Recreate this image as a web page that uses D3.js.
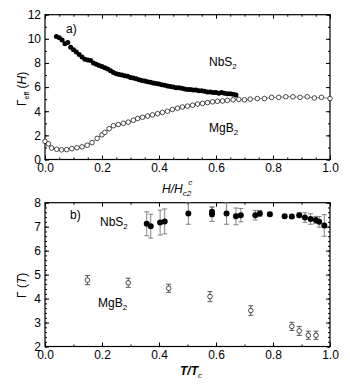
<!DOCTYPE html>
<html>
<head>
<meta charset="utf-8">
<script src="https://cdn.jsdelivr.net/npm/d3@7"></script>
<style>
body { margin: 0; background: #fff; }
svg text { font-family: "Liberation Sans", Arial, sans-serif; fill: #000; }
</style>
</head>
<body>
<script>
// panel a) : Gamma_eff vs H/Hc2
var nbsH = [0.04,0.05,0.06,0.07,0.08,0.09,0.10,0.11,0.12,0.13,0.14,0.15,0.16,0.17,0.18,0.19,0.20,0.21,0.22,0.23,0.24,0.25,0.26,0.27,0.28,0.29,0.30,0.31,0.32,0.33,0.34,0.35,0.36,0.37,0.38,0.39,0.40,0.41,0.42,0.43,0.44,0.45,0.46,0.47,0.48,0.49,0.50,0.51,0.52,0.53,0.54,0.55,0.56,0.57,0.58,0.59,0.60,0.61,0.62,0.63,0.64,0.65,0.66,0.67];
var nbsG = [10.2,10.1,9.9,9.6,9.7,9.3,9.1,8.9,8.7,8.5,8.3,8.25,8.2,8.0,7.9,7.8,7.7,7.6,7.5,7.35,7.2,7.1,7.05,7.0,6.95,6.9,6.8,6.75,6.7,6.6,6.55,6.5,6.45,6.4,6.35,6.3,6.25,6.2,6.15,6.1,6.05,6.0,5.95,5.95,5.9,5.85,5.8,5.8,5.75,5.75,5.7,5.7,5.65,5.6,5.6,5.55,5.55,5.5,5.55,5.5,5.45,5.45,5.4,5.35];
var mgbH = [0.0,0.012,0.023,0.041,0.058,0.076,0.094,0.112,0.13,0.148,0.165,0.183,0.2,0.21,0.225,0.24,0.257,0.275,0.292,0.31,0.325,0.342,0.36,0.377,0.395,0.412,0.43,0.447,0.465,0.482,0.5,0.518,0.535,0.553,0.57,0.588,0.605,0.623,0.64,0.66,0.68,0.7,0.72,0.745,0.77,0.795,0.82,0.845,0.87,0.895,0.92,0.945,0.97,1.0];
var mgbG = [1.5,1.3,0.95,0.85,0.8,0.82,0.9,0.97,1.05,1.18,1.4,1.75,2.05,2.25,2.55,2.8,2.9,3.0,3.1,3.25,3.4,3.5,3.6,3.7,3.8,3.9,4.0,4.15,4.25,4.35,4.42,4.5,4.6,4.65,4.72,4.78,4.82,4.85,4.9,4.95,4.98,4.95,5.0,5.05,5.05,5.15,5.15,5.2,5.2,5.15,5.2,5.1,5.15,5.05];

// panel b) : Gamma vs T/Tc
var nbsT = [0.357,0.371,0.404,0.42,0.503,0.586,0.586,0.637,0.67,0.687,0.738,0.754,0.789,0.841,0.866,0.892,0.912,0.932,0.95,0.962,0.98];
var nbsGT = [7.12,7.02,7.17,7.22,7.55,7.52,7.62,7.55,7.43,7.48,7.48,7.55,7.52,7.43,7.42,7.48,7.38,7.32,7.28,7.2,7.05];
var nbsErr = [0.5,0.5,0.52,0.52,0.45,0.3,0.2,0.45,0.35,0.28,0.2,0.12,0.08,0.08,0.08,0.1,0.2,0.22,0.15,0.22,0.45];
var mgbT = [0.149,0.292,0.434,0.579,0.722,0.866,0.892,0.924,0.951];
var mgbGT = [4.77,4.66,4.43,4.08,3.5,2.84,2.65,2.47,2.47];
var mgbErr = [0.19,0.19,0.17,0.21,0.2,0.17,0.19,0.17,0.17];

var xTicks = [0, 0.2, 0.4, 0.6, 0.8, 1.0];
var yTicksA = [0, 2, 4, 6, 8, 10, 12];
var yTicksB = [2, 3, 4, 5, 6, 7, 8];

var W = 350, H = 391;
var svg = d3.select("body").append("svg").attr("width", W).attr("height", H);

var x = d3.scaleLinear().domain([0, 1]).range([45, 330]);
var yA = d3.scaleLinear().domain([0, 12]).range([159.5, 14.7]);
var yB = d3.scaleLinear().domain([2, 8]).range([346.5, 202.7]);

function frame(y, yTicks, yMinorStep, xMinorStep) {
  var g = svg.append("g");
  var y0 = y.range()[0], y1 = y.range()[1];
  var xMinor = d3.range(0, 1.0001, xMinorStep);
  var yd = y.domain();
  var yMinor = d3.range(yd[0], yd[1] + 1e-6, yMinorStep);

  // bottom + top
  g.append("g").attr("transform", "translate(0," + y0 + ")")
    .call(d3.axisBottom(x).tickValues(xMinor).tickSize(-2).tickFormat(""));
  g.append("g").attr("transform", "translate(0," + y0 + ")")
    .call(d3.axisBottom(x).tickValues(xTicks).tickSize(-4).tickPadding(4).tickFormat(d3.format(".1f")));
  g.append("g").attr("transform", "translate(0," + y1 + ")")
    .call(d3.axisTop(x).tickValues(xMinor).tickSize(-2).tickFormat(""));
  g.append("g").attr("transform", "translate(0," + y1 + ")")
    .call(d3.axisTop(x).tickValues(xTicks).tickSize(-4).tickFormat(""));
  // left + right
  g.append("g").attr("transform", "translate(45,0)")
    .call(d3.axisLeft(y).tickValues(yMinor).tickSize(-2).tickFormat(""));
  g.append("g").attr("transform", "translate(45,0)")
    .call(d3.axisLeft(y).tickValues(yTicks).tickSize(-4).tickPadding(4).tickFormat(d3.format("d")));
  g.append("g").attr("transform", "translate(330,0)")
    .call(d3.axisRight(y).tickValues(yMinor).tickSize(-2).tickFormat(""));
  g.append("g").attr("transform", "translate(330,0)")
    .call(d3.axisRight(y).tickValues(yTicks).tickSize(-4).tickFormat(""));

  g.selectAll(".domain").remove();
  g.selectAll("text").attr("font-size", 12).attr("font-family", "Liberation Sans, Arial, sans-serif");
  g.selectAll("line").attr("stroke", "#000").attr("stroke-width", 1);
  g.append("rect").attr("x", 45).attr("y", y1).attr("width", 285).attr("height", y0 - y1)
    .attr("fill", "none").attr("stroke", "#000").attr("stroke-width", 1.2);
}

frame(yA, yTicksA, 1, 0.05);
frame(yB, yTicksB, 0.2, 0.1);

// panel a data
var gA = svg.append("g");
var line = d3.line().x(function(d) { return x(d[0]); }).y(function(d) { return yA(d[1]); });
var mgbPts = d3.zip(mgbH, mgbG);
gA.append("path").attr("d", line(mgbPts)).attr("fill", "none").attr("stroke", "#333").attr("stroke-width", 0.6);
gA.selectAll("circle.mgb").data(mgbPts).join("circle").attr("class", "mgb")
  .attr("cx", function(d) { return x(d[0]); }).attr("cy", function(d) { return yA(d[1]); })
  .attr("r", 2.3).attr("fill", "#fff").attr("stroke", "#000").attr("stroke-width", 0.7);
gA.selectAll("circle.nbs").data(d3.zip(nbsH, nbsG)).join("circle").attr("class", "nbs")
  .attr("cx", function(d) { return x(d[0]); }).attr("cy", function(d) { return yA(d[1]); })
  .attr("r", 2.5).attr("fill", "#000");

// panel b data
var gB = svg.append("g");
function errbars(xs, ys, es, col) {
  var d = d3.range(xs.length).map(function(i) { return [xs[i], ys[i], es[i]]; });
  var e = gB.append("g").attr("stroke", col).attr("stroke-width", 0.8);
  e.selectAll("line.v").data(d).join("line").attr("class", "v")
    .attr("x1", function(p) { return x(p[0]); }).attr("x2", function(p) { return x(p[0]); })
    .attr("y1", function(p) { return yB(p[1] - p[2]); }).attr("y2", function(p) { return yB(p[1] + p[2]); });
  [-1, 1].forEach(function(s) {
    e.selectAll("line.c" + (s + 1)).data(d).join("line").attr("class", "c" + (s + 1))
      .attr("x1", function(p) { return x(p[0]) - 2.5; }).attr("x2", function(p) { return x(p[0]) + 2.5; })
      .attr("y1", function(p) { return yB(p[1] + s * p[2]); }).attr("y2", function(p) { return yB(p[1] + s * p[2]); });
  });
  return d;
}
var nb = errbars(nbsT, nbsGT, nbsErr, "#666");
var mb = errbars(mgbT, mgbGT, mgbErr, "#333");
gB.selectAll("circle.nb").data(nb).join("circle").attr("class", "nb")
  .attr("cx", function(p) { return x(p[0]); }).attr("cy", function(p) { return yB(p[1]); })
  .attr("r", 3).attr("fill", "#000");
gB.selectAll("circle.mb").data(mb).join("circle").attr("class", "mb")
  .attr("cx", function(p) { return x(p[0]); }).attr("cy", function(p) { return yB(p[1]); })
  .attr("r", 2.3).attr("fill", "#fff").attr("stroke", "#000").attr("stroke-width", 0.7);

// labels
function label(tx, ty, main, sub) {
  var t = svg.append("text").attr("x", tx).attr("y", ty).attr("font-size", 12).text(main);
  if (sub) t.append("tspan").attr("font-size", 8).attr("dy", 3).text(sub);
  return t;
}
label(66, 33, "a)");
label(209, 66, "NbS", "2");
label(209, 132, "MgB", "2");
label(70, 219, "b)");
label(100, 226, "NbS", "2");
label(98, 307, "MgB", "2");

// x titles
var xt = svg.append("text").attr("x", 162).attr("y", 193).attr("font-size", 12).attr("font-style", "italic");
xt.append("tspan").text("H/H");
xt.append("tspan").attr("font-size", 8).attr("dy", 3).text("c2");
xt.append("tspan").attr("font-size", 8).attr("dx", -3).attr("dy", -11).text("c");

var xt2 = svg.append("text").attr("x", 180).attr("y", 375).attr("font-size", 12).attr("font-style", "italic").attr("font-weight", "bold");
xt2.append("tspan").text("T/T");
xt2.append("tspan").attr("font-size", 8).attr("dy", 3).attr("font-weight", "normal").text("c");

// y titles
var yt = svg.append("text").attr("transform", "translate(26,106) rotate(-90)").attr("font-size", 12);
yt.append("tspan").text("\u0393");
yt.append("tspan").attr("font-size", 7).attr("dy", 3).text("eff");
yt.append("tspan").attr("dy", -3).text(" (");
yt.append("tspan").attr("font-style", "italic").text("H");
yt.append("tspan").text(")");

var yt2 = svg.append("text").attr("transform", "translate(26,298) rotate(-90)").attr("font-size", 12);
yt2.append("tspan").text("\u0393 (");
yt2.append("tspan").attr("font-style", "italic").text("T");
yt2.append("tspan").text(")");
</script>
</body>
</html>
